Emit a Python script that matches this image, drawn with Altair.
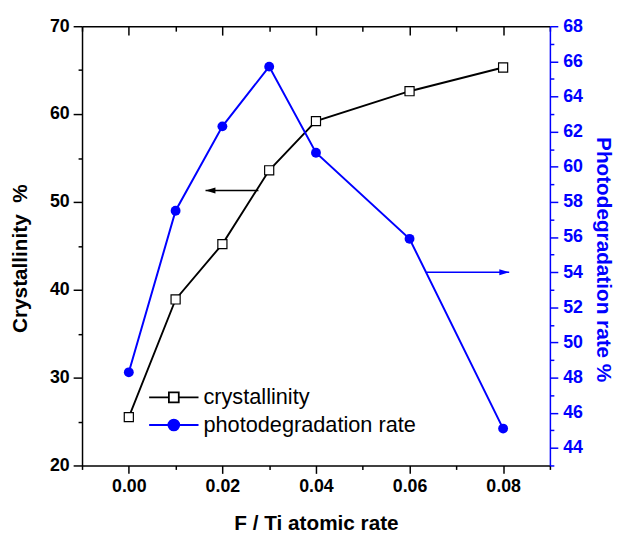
import altair as alt
import pandas as pd

# ---------------- data ----------------
x_vals = [0.00, 0.01, 0.02, 0.03, 0.04, 0.06, 0.08]
crystallinity = [25.5, 38.9, 45.2, 53.6, 59.2, 62.6, 65.3]
photodegradation = [48.3, 57.5, 62.3, 65.7, 60.8, 55.9, 45.1]

series_names = ["crystallinity", "photodegradation rate"]

x_major = [0.00, 0.02, 0.04, 0.06, 0.08]
x_minor = [-0.01, 0.01, 0.03, 0.05, 0.07, 0.09]
yl_major = [20, 30, 40, 50, 60, 70]
yl_minor = [25, 35, 45, 55, 65]
yr_major = [44, 46, 48, 50, 52, 54, 56, 58, 60, 62, 64, 66, 68]
yr_minor = [43, 45, 47, 49, 51, 53, 55, 57, 59, 61, 63, 65, 67]

# annotation arrows: [start, tip] in x, one y level each
arrow_left_x = [0.0277, 0.0164]
arrow_left_y = [51.3]
arrow_right_x = [0.0636, 0.0813]
arrow_right_y = [54.0]

# ---------------- style ----------------
FONT = "Liberation Sans"
BLUE = "#0000ff"
W, H = 474, 445

df = pd.DataFrame({"x": x_vals, "cryst": crystallinity, "photo": photodegradation})
arrL = pd.DataFrame({"x0": [arrow_left_x[0]], "x1": [arrow_left_x[1]], "y": arrow_left_y})
arrR = pd.DataFrame({"x0": [arrow_right_x[0]], "x1": [arrow_right_x[1]], "y": arrow_right_y})
leg = pd.DataFrame({"series": series_names, "lx": [0.0, 0.0], "ly": [0.0, 0.0]})

xs = alt.Scale(domain=[-0.01, 0.09], nice=False, zero=False)
yls = alt.Scale(domain=[20, 70], nice=False, zero=False)
yrs = alt.Scale(domain=[43, 68], nice=False, zero=False)

common = dict(grid=False, tickWidth=1.5, domainWidth=1.5)

x_bottom_major = alt.Axis(
    orient="bottom", values=x_major, format=".2f", tickSize=8, tickColor="black",
    domainColor="black", labelFont=FONT, labelFontSize=18, labelFontWeight="bold",
    labelColor="black", labelPadding=4, title="F / Ti atomic rate", titleFont=FONT,
    titleFontSize=21, titleFontWeight="bold", titleColor="black", titleY=65,
    titleBaseline="alphabetic", **common)
x_bottom_minor = alt.Axis(orient="bottom", values=x_minor, tickSize=4, tickColor="black",
                          labels=False, domain=False, **common)
x_top_major = alt.Axis(orient="bottom", offset=-H, values=x_major, tickSize=9,
                       tickColor="black", domainColor="black", labels=False, **common)
x_top_minor = alt.Axis(orient="bottom", offset=-H, values=x_minor, tickSize=5,
                       tickColor="black", labels=False, domain=False, **common)

yl_major_ax = alt.Axis(
    orient="left", values=yl_major, tickSize=9, tickColor="black", domainColor="black",
    labelFont=FONT, labelFontSize=18, labelFontWeight="bold", labelColor="black",
    labelPadding=4, title="Crystallinity\u00a0\u00a0%", titleFont=FONT, titleFontSize=21,
    titleFontWeight="bold", titleColor="black", titleX=-56, titleY=235,
    titleBaseline="alphabetic", **common)
yl_minor_ax = alt.Axis(orient="left", values=yl_minor, tickSize=4, tickColor="black",
                       labels=False, domain=False, **common)

yr_major_ax = alt.Axis(
    orient="right", values=yr_major, tickSize=8, tickColor=BLUE, domainColor=BLUE,
    labelFont=FONT, labelFontSize=18, labelFontWeight="bold", labelColor=BLUE,
    labelPadding=5, title="Photodegradation rate %", titleFont=FONT, titleFontSize=21,
    titleFontWeight="bold", titleColor=BLUE, titleX=47, titleY=236, titleAngle=90,
    titleBaseline="alphabetic", **common)
yr_minor_ax = alt.Axis(orient="right", values=yr_minor, tickSize=4, tickColor=BLUE,
                       labels=False, domain=False, **common)

# ---------------- left (crystallinity) group ----------------
c_line = alt.Chart(df).mark_line(color="black", strokeWidth=1.9).encode(
    x=alt.X("x:Q", scale=xs, axis=x_bottom_major),
    y=alt.Y("cryst:Q", scale=yls, axis=yl_major_ax),
)
c_pts = alt.Chart(df).mark_point(shape="square", filled=True, fill="white", stroke="black",
                                 strokeWidth=1.2, size=85, opacity=1).encode(
    x=alt.X("x:Q", scale=xs, axis=x_bottom_minor, title=None),
    y=alt.Y("cryst:Q", scale=yls, axis=yl_minor_ax, title=None),
)
aL_rule = alt.Chart(arrL).mark_rule(color="black", strokeWidth=1.5).encode(
    x=alt.X("x0:Q", scale=xs, axis=x_top_major, title=None),
    x2="x1:Q",
    y=alt.Y("y:Q", scale=yls, axis=None),
)
aL_head = alt.Chart(arrL).mark_point(shape="M0,0L2,-0.6L2,0.6Z", filled=True, color="black",
                                     size=100, opacity=1).encode(
    x=alt.X("x1:Q", scale=xs, axis=x_top_minor, title=None),
    y=alt.Y("y:Q", scale=yls, axis=None),
)

sq_sym = "M-2.5,0L-0.5,0M-0.5,-0.5L0.5,-0.5L0.5,0.5L-0.5,0.5ZM0.5,0L2.5,0"
k = 0.3038
r = 0.55
ci_sym = (f"M-2.5,0L-{r},0M-{r},0C-{r},-{k} -{k},-{r} 0,-{r}C{k},-{r} {r},-{k} {r},0"
          f"C{r},{k} {k},{r} 0,{r}C-{k},{r} -{r},{k} -{r},0ZM{r},0L2.5,0")

legend = alt.Legend(orient="none", legendX=82, legendY=365, title=None, labelFont=FONT,
                    labelFontSize=22, labelColor="black", labelOffset=19, rowPadding=6,
                    padding=0, symbolSize=400, symbolStrokeWidth=1.8, labelLimit=0)
leg_layer = alt.Chart(leg).mark_point(filled=True, size=400, strokeWidth=1.8, opacity=1,
                                      clip=True).encode(
    x=alt.X("lx:Q", scale=xs, axis=None),
    y=alt.Y("ly:Q", scale=yls, axis=None),
    fill=alt.Fill("series:N", scale=alt.Scale(domain=series_names, range=["white", BLUE]),
                  legend=legend),
    stroke=alt.Stroke("series:N", scale=alt.Scale(domain=series_names, range=["black", BLUE]),
                      legend=legend),
    shape=alt.Shape("series:N", scale=alt.Scale(domain=series_names, range=[sq_sym, ci_sym]),
                    legend=legend),
)

left = alt.layer(c_line, c_pts, aL_rule, aL_head, leg_layer).resolve_axis(
    x="independent", y="independent")

# ---------------- right (photodegradation) group ----------------
p_line = alt.Chart(df).mark_line(color=BLUE, strokeWidth=2).encode(
    x=alt.X("x:Q", scale=xs, axis=None),
    y=alt.Y("photo:Q", scale=yrs, axis=yr_major_ax),
)
p_pts = alt.Chart(df).mark_point(shape="circle", filled=True, color=BLUE, size=100,
                                 opacity=1).encode(
    x=alt.X("x:Q", scale=xs, axis=None),
    y=alt.Y("photo:Q", scale=yrs, axis=yr_minor_ax, title=None),
)
aR_rule = alt.Chart(arrR).mark_rule(color=BLUE, strokeWidth=1.5).encode(
    x=alt.X("x0:Q", scale=xs, axis=None),
    x2="x1:Q",
    y=alt.Y("y:Q", scale=yrs, axis=None),
)
aR_head = alt.Chart(arrR).mark_point(shape="M0,0L-2,-0.6L-2,0.6Z", filled=True, color=BLUE,
                                     size=100, opacity=1).encode(
    x=alt.X("x1:Q", scale=xs, axis=None),
    y=alt.Y("y:Q", scale=yrs, axis=None),
)

right = alt.layer(p_line, p_pts, aR_rule, aR_head).resolve_axis(y="independent")

chart = alt.layer(left, right).resolve_scale(y="independent").resolve_axis(
    x="independent", y="independent"
).properties(
    width=W, height=H,
    padding={"left": 75, "top": 15, "right": 70, "bottom": 68},
    autosize=alt.AutoSizeParams(type="none"),
    background="white",
).configure_view(stroke=None)

chart.save("out.html", embed_options={"renderer": "svg", "actions": False})
